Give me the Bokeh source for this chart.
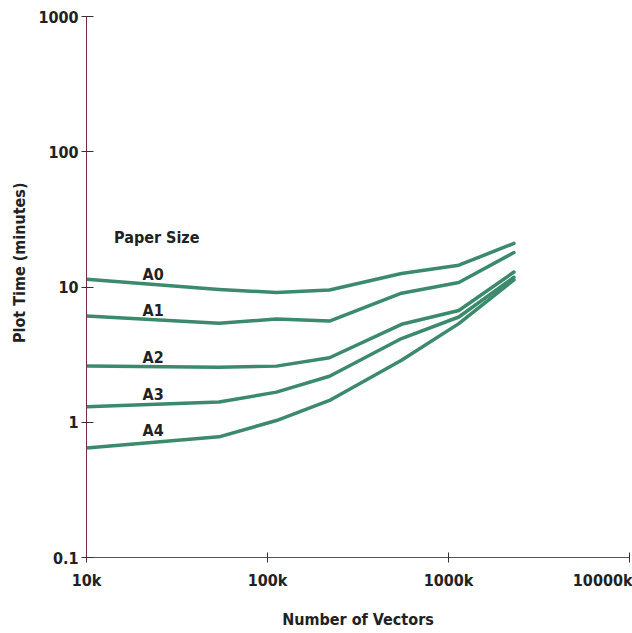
from bokeh.plotting import figure
from bokeh.models import Range1d, FixedTicker, Label, Title
from bokeh.embed import file_html
from bokeh.resources import INLINE

# Data (vectors in units of k, plot time in minutes)
vectors_k = [10, 54, 112, 220, 550, 1140, 2300]
series_names = ["A0", "A1", "A2", "A3", "A4"]
a0 = [11.4, 9.6, 9.1, 9.5, 12.6, 14.5, 21.0]
a1 = [6.1, 5.4, 5.8, 5.6, 9.0, 10.8, 18.0]
a2 = [2.6, 2.55, 2.6, 3.0, 5.3, 6.7, 12.9]
a3 = [1.3, 1.41, 1.67, 2.19, 4.16, 6.0, 11.8]
a4 = [0.645, 0.78, 1.03, 1.45, 2.87, 5.36, 11.3]
series = [a0, a1, a2, a3, a4]

x_ticks = [1e4, 1e5, 1e6, 1e7]
x_tick_labels = ["10k", "100k", "1000k", "10000k"]
y_ticks = [0.1, 1, 10, 100, 1000]
y_tick_labels = ["0.1", "1", "10", "100", "1000"]

FONT = "DejaVu Sans Condensed, Roboto"
GREEN = "#3b8a6c"
TXT = "#222222"
FS = "16px"

p = figure(width=632, height=633, x_axis_type="log", y_axis_type="log",
           x_range=Range1d(1e4, 1e7), y_range=Range1d(0.1, 1000),
           output_backend="svg", toolbar_location=None,
           min_border_left=85, min_border_right=3, min_border_top=16,
           min_border_bottom=76)
p.outline_line_color = None
p.xgrid.visible = False
p.ygrid.visible = False
p.background_fill_color = "white"
p.border_fill_color = "white"

xv = [v * 1000 for v in vectors_k]
for s in series:
    p.line(xv, s, line_color=GREEN, line_width=3.5, line_join="round", line_cap="round")

# axes
p.xaxis.ticker = FixedTicker(ticks=x_ticks, minor_ticks=[])
p.yaxis.ticker = FixedTicker(ticks=y_ticks, minor_ticks=[])
p.xaxis.major_label_overrides = {t: l for t, l in zip(x_ticks, x_tick_labels)}
p.yaxis.major_label_overrides = {t: l for t, l in zip(y_ticks, y_tick_labels)}

for ax in (p.xaxis[0], p.yaxis[0]):
    ax.major_label_text_font = FONT
    ax.major_label_text_font_style = "bold"
    ax.major_label_text_font_size = FS
    ax.major_label_text_color = TXT
    ax.axis_label_text_font = FONT
    ax.axis_label_text_font_style = "bold"
    ax.axis_label_text_font_size = FS
    ax.axis_label_text_color = TXT
    ax.major_tick_line_color = "#333333"
    ax.minor_tick_line_color = None

p.xaxis.axis_line_color = "#555555"
p.yaxis.axis_line_color = "#7a2a50"
p.xaxis.major_tick_in = 5
p.xaxis.major_tick_out = 5
p.yaxis.major_tick_in = 7
p.yaxis.major_tick_out = 5
p.xaxis.major_label_standoff = 8
p.yaxis.major_label_standoff = 3
p.xaxis.axis_label = "Number of Vectors"
p.xaxis.axis_label_standoff = 17

# y axis title as a left-side title, placed above the frame centre as in the reference
p.add_layout(Title(text="Plot Time (minutes)", align="right", offset=166,
                   text_font=FONT, text_font_style="bold", text_font_size=FS,
                   text_color=TXT, standoff=14), "left")

# annotations
p.add_layout(Label(x=14.2e3, y=23.3, text="Paper Size", text_font=FONT,
                   text_font_style="bold", text_font_size=FS,
                   text_baseline="alphabetic", text_color=TXT))
label_y = [12.4, 6.65, 3.03, 1.61, 0.865]
for name, ly in zip(series_names, label_y):
    p.add_layout(Label(x=20.4e3, y=ly, text=name, text_font=FONT,
                       text_font_style="bold", text_font_size=FS,
                       text_baseline="alphabetic", text_color=TXT))

open("out.html", "w").write(file_html(p, INLINE))
